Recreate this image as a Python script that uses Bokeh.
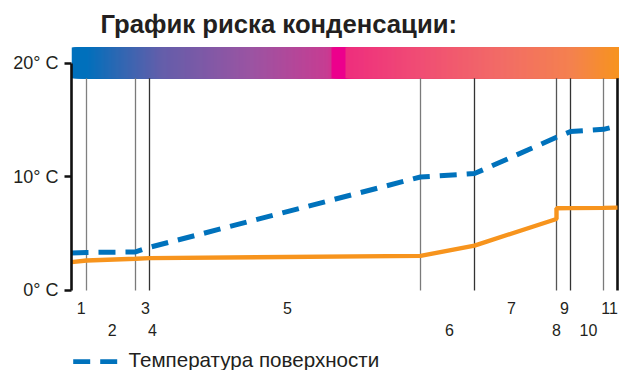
import numpy as np
from bokeh.plotting import figure
from bokeh.models import Range1d, FixedTicker, ColumnDataSource
from bokeh.core.properties import value
from bokeh.embed import file_html
from bokeh.resources import INLINE

# ---- data ----
title_text = "График риска конденсации:"
legend_text = "Температура поверхности"
# layer boundaries (relative wall position)
boundaries = [0, 15, 64, 78, 349, 403, 485, 499, 532, 546]
# surface temperature (blue dashed), at boundaries
surface_temp = [3.3, 3.35, 3.4, 3.8, 10.0, 10.3, 13.5, 14.0, 14.2, 14.5]
# dew point temperature (orange), with step at boundary 485
dew_x = [0, 15, 64, 78, 349, 403, 485, 485, 499, 532, 546]
dew_temp = [2.5, 2.64, 2.8, 2.85, 3.05, 3.96, 6.3, 7.25, 7.26, 7.28, 7.3]
# layer numbers and their label positions
layer_labels = ["1", "2", "3", "4", "5", "6", "7", "8", "9", "10", "11"]
layer_label_x = [9.7, 40.7, 74, 81, 216, 378, 440, 485, 493, 517, 538]
y_ticks = [0, 10, 20]
y_tick_labels = ["0° C", "10° C", "20° C"]

FONT = "Liberation Sans"
TXT = "#231F20"

p = figure(width=619, height=370, output_backend="svg", toolbar_location=None,
           x_range=Range1d(0, 548), y_range=Range1d(-7.05, 25.55),
           x_axis_location=None, y_axis_location="left",
           min_border_left=71, min_border_right=0, min_border_top=0, min_border_bottom=0)
p.outline_line_color = None
p.grid.visible = False
p.background_fill_color = "white"
p.border_fill_color = "white"

# ---- gradient bar ----
stops_x = [0, 15, 45, 90, 180, 255, 260, 260.01, 274, 274.01, 350, 430, 500, 548]
stops_c = ["#0070BC", "#0070BC", "#2B68B3", "#645EAA", "#9B54A2", "#C63D92", "#D0348F",
           "#EC008C", "#EC008C", "#EE2E7E", "#F04E74", "#F26C66", "#F4814F", "#F7941D"]
def hex2rgb(h):
    return np.array([int(h[i:i+2], 16) for i in (1, 3, 5)], dtype=float)
rgbs = np.array([hex2rgb(c) for c in stops_c])
xs = np.arange(0, 548, 1.0)
cols = []
for xm in xs + 0.5:
    r = np.interp(xm, stops_x, rgbs[:, 0]); g = np.interp(xm, stops_x, rgbs[:, 1]); b = np.interp(xm, stops_x, rgbs[:, 2])
    cols.append("#%02x%02x%02x" % (int(round(r)), int(round(g)), int(round(b))))
src = ColumnDataSource(dict(left=xs, right=np.full(len(xs), 548.0), color=cols))
p.quad(left="left", right="right", bottom=18.7, top=21.4, fill_color="color", fill_alpha=1.0,
       line_color=None, source=src)

# ---- layer boundary lines ----
inner = boundaries[1:-1]
line_cols = ["#808080", "#7a7a7a", "#333333", "#7a7a7a", "#333333", "#555555", "#333333", "#7a7a7a"]
p.segment(x0=inner, x1=inner, y0=[0] * len(inner), y1=[18.7] * len(inner),
          line_color=line_cols, line_width=1.3)
p.segment(x0=[boundaries[-1]], x1=[boundaries[-1]], y0=[0], y1=[18.7], line_color="#111111", line_width=2.6)

# ---- curves ----
p.line(dew_x, dew_temp, line_color="#F7941D", line_width=4.4)
p.line(boundaries, surface_temp, line_color="#0072BC", line_width=5, line_dash="17 10")

# ---- layer labels ----
row_y = [-1.5 if i % 2 == 0 else -3.52 for i in range(len(layer_labels))]
p.text(x=layer_label_x, y=row_y, text=layer_labels, text_align="center", text_baseline="middle",
       text_font=value(FONT), text_font_size="16px", text_color=TXT)

# ---- title ----
p.text(x=[29], y=[23.5], text=[title_text], text_align="left", text_baseline="alphabetic",
       text_font=value(FONT), text_font_size="25.7px", text_font_style="bold", text_color=TXT)

# ---- legend ----
p.line([1.7, 45.7], [-6.26, -6.26], line_color="#0072BC", line_width=4.7, line_dash="17 10")
p.text(x=[57], y=[-6.05], text=[legend_text], text_align="left", text_baseline="alphabetic",
       text_font=value(FONT), text_font_size="20.6px", text_color=TXT)

# ---- y axis ----
ax = p.yaxis[0]
ax.bounds = (0, 20)
ax.ticker = FixedTicker(ticks=y_ticks)
ax.major_label_overrides = {t: l for t, l in zip(y_ticks, y_tick_labels)}
ax.axis_line_width = 2.6
ax.axis_line_color = "#111111"
ax.major_tick_line_width = 2.4
ax.major_tick_line_color = "#111111"
ax.major_tick_out = 7
ax.major_tick_in = 0
ax.minor_tick_line_color = None
ax.major_label_standoff = 6
ax.major_label_text_font = FONT
ax.major_label_text_font_size = "18px"
ax.major_label_text_color = TXT

open("out.html", "w").write(file_html(p, INLINE))
